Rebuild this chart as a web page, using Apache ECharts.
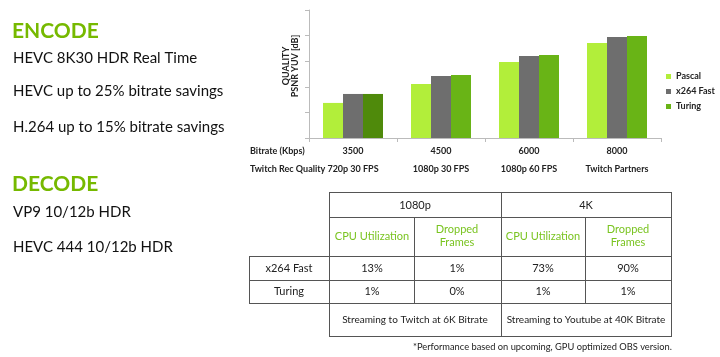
<!DOCTYPE html>
<html><head><meta charset="utf-8">
<script src="https://cdn.jsdelivr.net/npm/echarts@6/dist/echarts.min.js"></script>
<style>html,body{margin:0;padding:0;background:#fff}#c{width:720px;height:357px}</style>
</head><body><div id="c"></div>
<script>
// ---- data ----
const bitrates = ['3500', '4500', '6000', '8000'];
const recQuality = ['720p 30 FPS', '1080p 30 FPS', '1080p 60 FPS', 'Twitch Partners'];
const seriesNames = ['Pascal', 'x264 Fast', 'Turing'];
const pascal = [1.37, 2.11, 2.97, 3.71];
const x264 = [1.72, 2.42, 3.2, 3.95];
const turing = [1.72, 2.46, 3.24, 3.98];
const encodeLines = ['HEVC 8K30 HDR Real Time', 'HEVC up to 25% bitrate savings', 'H.264 up to 15% bitrate savings'];
const decodeLines = ['VP9 10/12b HDR', 'HEVC 444 10/12b HDR'];
const tableGroups = ['1080p', '4K'];
const tableCols = ['CPU Utilization', 'Dropped\nFrames'];
const tableRows = ['x264 Fast', 'Turing'];
const tableValues = [['13%', '1%', '73%', '90%'], ['1%', '0%', '1%', '1%']];
const tableNotes = ['Streaming to Twitch at 6K Bitrate', 'Streaming to Youtube at 40K Bitrate'];
const footnote = '*Performance based on upcoming, GPU optimized OBS version.';

const FF = 'Lato, "Open Sans", sans-serif';
const GREEN = '#76b900';
const chart = echarts.init(document.getElementById('c'));

const g = [];
function txt(text, x, y, opt) {
  g.push({type: 'text', silent: true, style: Object.assign({text, x, y, fill: '#111', fontFamily: FF, fontSize: 11,
    align: 'center', verticalAlign: 'middle'}, opt || {})});
}
function ln(x1, y1, x2, y2) {
  g.push({type: 'line', silent: true, shape: {x1, y1, x2, y2}, style: {stroke: '#555', lineWidth: 1}});
}
// left texts
txt('ENCODE', 12, 31, {fill: GREEN, fontSize: 21, fontWeight: 'bold', align: 'left'});
[58, 91, 127].forEach((y, i) => txt(encodeLines[i], 13, y, {fontSize: 15, align: 'left'}));
txt('DECODE', 12, 184, {fill: GREEN, fontSize: 21, fontWeight: 'bold', align: 'left'});
[212, 247].forEach((y, i) => txt(decodeLines[i], 13, y, {fontSize: 15, align: 'left'}));
// axis title
g.push({type: 'text', silent: true, x: 291, y: 66, rotation: Math.PI / 2,
  style: {text: 'QUALITY\nPSNR YUV [dB]', fill: '#222', fontFamily: FF, fontSize: 9, fontWeight: 'bold',
    align: 'center', verticalAlign: 'middle', lineHeight: 9}});
txt('Bitrate (Kbps)', 250, 151, {fontSize: 9, fontWeight: 'bold', align: 'left', fill: '#222'});
txt('Twitch Rec Quality', 250, 169, {fontSize: 9, fontWeight: 'bold', align: 'left', fill: '#222'});
// table
const h = (y, x1, x2) => ln(x1, y + 0.5, x2, y + 0.5);
const v = (x, y1, y2) => ln(x + 0.5, y1, x + 0.5, y2);
h(192, 329, 672); h(217, 329, 672); h(256, 249, 672); h(280, 249, 672); h(303, 249, 672); h(336, 329, 672);
v(249, 256, 304); v(329, 192, 337); v(414, 217, 304); v(501, 192, 337); v(585, 217, 304); v(671, 192, 337);
const groupX = [415, 586];
const colX = [372, 457, 543, 628];
tableGroups.forEach((t, i) => txt(t, groupX[i], 205, {fontSize: 11, fill: '#222'}));
colX.forEach((x, i) => txt(tableCols[i % 2], x, 236, {fontSize: 11, fill: '#7ac421', lineHeight: 13}));
[268, 291].forEach((y, r) => {
  txt(tableRows[r], 289, y, {fontSize: 11, fill: '#222'});
  colX.forEach((x, c) => txt(tableValues[r][c], x, y, {fontSize: 11, fill: '#222'}));
});
tableNotes.forEach((t, i) => txt(t, groupX[i], 320, {fontSize: 10, fill: '#222'}));
txt(footnote, 672, 347, {fontSize: 9.3, align: 'right', fill: '#222'});

chart.setOption({
  backgroundColor: '#ffffff',
  animation: false,
  grid: {left: 309, right: 59, top: 10, bottom: 219},
  legend: {
    orient: 'vertical', left: 666, top: 72, itemWidth: 5, itemHeight: 5, itemGap: 6, icon: 'rect',
    padding: 0,
    textStyle: {fontFamily: FF, fontSize: 9, fontWeight: 'bold', color: '#222'},
    data: seriesNames
  },
  xAxis: {
    type: 'category',
    data: bitrates,
    axisLine: {lineStyle: {color: '#bbb'}},
    axisTick: {show: true, length: 4, lineStyle: {color: '#bbb'}},
    axisLabel: {
      margin: 4, interval: 0, fontFamily: FF, fontSize: 9, fontWeight: 'bold', color: '#222', lineHeight: 18,
      formatter: (val, idx) => val + '\n' + recQuality[idx]
    }
  },
  yAxis: {
    type: 'value', min: 0, max: 5, interval: 1,
    axisLine: {show: true, lineStyle: {color: '#bbb'}},
    axisTick: {show: true, length: 4, lineStyle: {color: '#bbb'}},
    axisLabel: {show: false},
    splitLine: {show: false}
  },
  series: [
    {name: seriesNames[0], type: 'bar', data: pascal, barWidth: 20, barGap: '0%', itemStyle: {color: '#b2ee3a'}},
    {name: seriesNames[1], type: 'bar', data: x264, barWidth: 20, barGap: '0%', itemStyle: {color: '#6e6e6e'}},
    {name: seriesNames[2], type: 'bar', data: turing.map((v, i) => i === 0 ? {value: v, itemStyle: {color: '#4f8a0b'}} : v),
      barWidth: 20, barGap: '0%', itemStyle: {color: '#69b416'}}
  ],
  graphic: g
});
</script></body></html>
